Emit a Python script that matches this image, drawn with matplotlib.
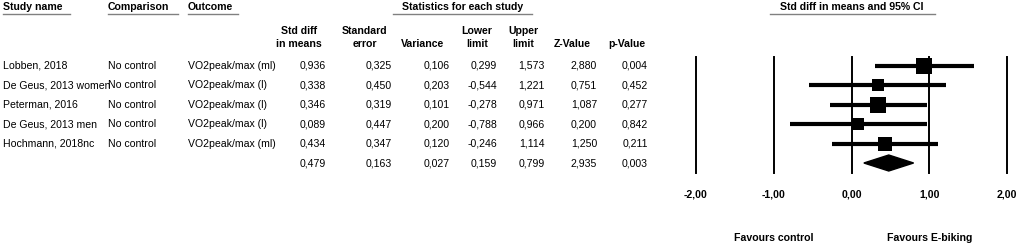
import numpy as np
import matplotlib.pyplot as plt
from matplotlib.patches import Polygon
from matplotlib.transforms import blended_transform_factory

plt.rcParams['font.family'] = ['Liberation Sans', 'DejaVu Sans']

# Datos del forest plot
studies = ["Lobben, 2018", "De Geus, 2013 women", "Peterman, 2016",
           "De Geus, 2013 men", "Hochmann, 2018nc"]
comparison = ["No control"] * 5
outcome = ["VO2peak/max (ml)", "VO2peak/max (l)", "VO2peak/max (l)",
           "VO2peak/max (l)", "VO2peak/max (ml)"]
std_diff = [0.936, 0.338, 0.346, 0.089, 0.434]
std_err = [0.325, 0.450, 0.319, 0.447, 0.347]
variance = [0.106, 0.203, 0.101, 0.200, 0.120]
lower = [0.299, -0.544, -0.278, -0.788, -0.246]
upper = [1.573, 1.221, 0.971, 0.966, 1.114]
z_value = [2.880, 0.751, 1.087, 0.200, 1.250]
p_value = [0.004, 0.452, 0.277, 0.842, 0.211]

# Resumen
sum_row = [0.479, 0.163, 0.027, 0.159, 0.799, 2.935, 0.003]

x_ticks = [-2, -1, 0, 1, 2]

W, H = 1021, 246
fig = plt.figure(figsize=(W / 100, H / 100), dpi=100)

def fx(px):
    return px / W

def fy(py):
    return 1 - py / H

def fmt(v):
    return f"{v:.3f}".replace(".", ",")

fs = 7.6
row_y = [66 + i * 19.4 for i in range(6)]

# Encabezados
for txt, x0, x1 in [("Study name", 3, 70), ("Comparison", 108, 178), ("Outcome", 188, 238)]:
    fig.text(fx(x0), fy(7), txt, fontsize=fs, fontweight="bold", va="center", ha="left")
    fig.add_artist(plt.Line2D([fx(x0), fx(x1)], [fy(14), fy(14)], color="#808080", lw=1))

fig.text(fx(463), fy(7), "Statistics for each study", fontsize=fs, fontweight="bold",
         va="center", ha="center")
fig.add_artist(plt.Line2D([fx(393), fx(532)], [fy(14), fy(14)], color="#808080", lw=1))
fig.text(fx(852), fy(7), "Std diff in means and 95% CI", fontsize=fs, fontweight="bold",
         va="center", ha="center")
fig.add_artist(plt.Line2D([fx(770), fx(935)], [fy(14), fy(14)], color="#808080", lw=1))

col_right = [326, 392, 450, 497, 545, 597, 648]
col_center = [299, 365, 423, 477, 523, 572, 627]
head1 = ["Std diff", "Standard", "", "Lower", "Upper", "", ""]
head2 = ["in means", "error", "Variance", "limit", "limit", "Z-Value", "p-Value"]
for c, h1, h2 in zip(col_center, head1, head2):
    if h1:
        fig.text(fx(c), fy(31), h1, fontsize=fs, fontweight="bold", va="center", ha="center")
    fig.text(fx(c), fy(44), h2, fontsize=fs, fontweight="bold", va="center", ha="center")

# Filas de la tabla
cols = [std_diff, std_err, variance, lower, upper, z_value, p_value]
for i in range(len(studies)):
    y = fy(row_y[i])
    fig.text(fx(3), y, studies[i], fontsize=fs, va="center", ha="left")
    fig.text(fx(108), y, comparison[i], fontsize=fs, va="center", ha="left")
    fig.text(fx(188), y, outcome[i], fontsize=fs, va="center", ha="left")
    for xr, col in zip(col_right, cols):
        fig.text(fx(xr), y, fmt(col[i]), fontsize=fs, va="center", ha="right")
for xr, v in zip(col_right, sum_row):
    fig.text(fx(xr), fy(row_y[5]), fmt(v), fontsize=fs, va="center", ha="right")

# Forest plot
top, bot = 57, 173
ax = fig.add_axes([fx(696), fy(bot), fx(1007 - 696), (bot - top) / H])
ax.set_xlim(-2, 2)
ax.set_ylim(5 + (bot - row_y[5]) / 19.4, -(row_y[0] - top) / 19.4)
for s in ax.spines.values():
    s.set_visible(False)
ax.set_yticks([])
ax.set_xticks(x_ticks)
ax.set_xticklabels([f"{t:.2f}".replace(".", ",") for t in x_ticks],
                   fontsize=fs, fontweight="bold")
ax.tick_params(axis="x", length=0, pad=12)
for t in x_ticks:
    ax.axvline(t, color="black", lw=1.4, clip_on=False)

weights = 1 / np.array(variance)
for i in range(len(studies)):
    ax.plot([lower[i], upper[i]], [i, i], color="black", lw=3, solid_capstyle="butt", zorder=3)
    side_pt = 5.1 * np.sqrt(weights[i]) * 0.72
    ax.scatter(std_diff[i], i, marker="s", s=side_pt ** 2, color="black", zorder=4,
               linewidths=0)

es, lo, hi = sum_row[0], sum_row[3], sum_row[4]
h = 8 / 19.4
diamond = Polygon([(lo, 5), (es, 5 - h), (hi, 5), (es, 5 + h)], closed=True,
                  color="black", zorder=4, clip_on=False)
ax.add_patch(diamond)

tr = blended_transform_factory(ax.transData, fig.transFigure)
ax.text(-1, fy(238), "Favours control", transform=tr, fontsize=fs, fontweight="bold",
        ha="center", va="center")
ax.text(1, fy(238), "Favours E-biking", transform=tr, fontsize=fs, fontweight="bold",
        ha="center", va="center")

fig.savefig("out.png", dpi=100)
